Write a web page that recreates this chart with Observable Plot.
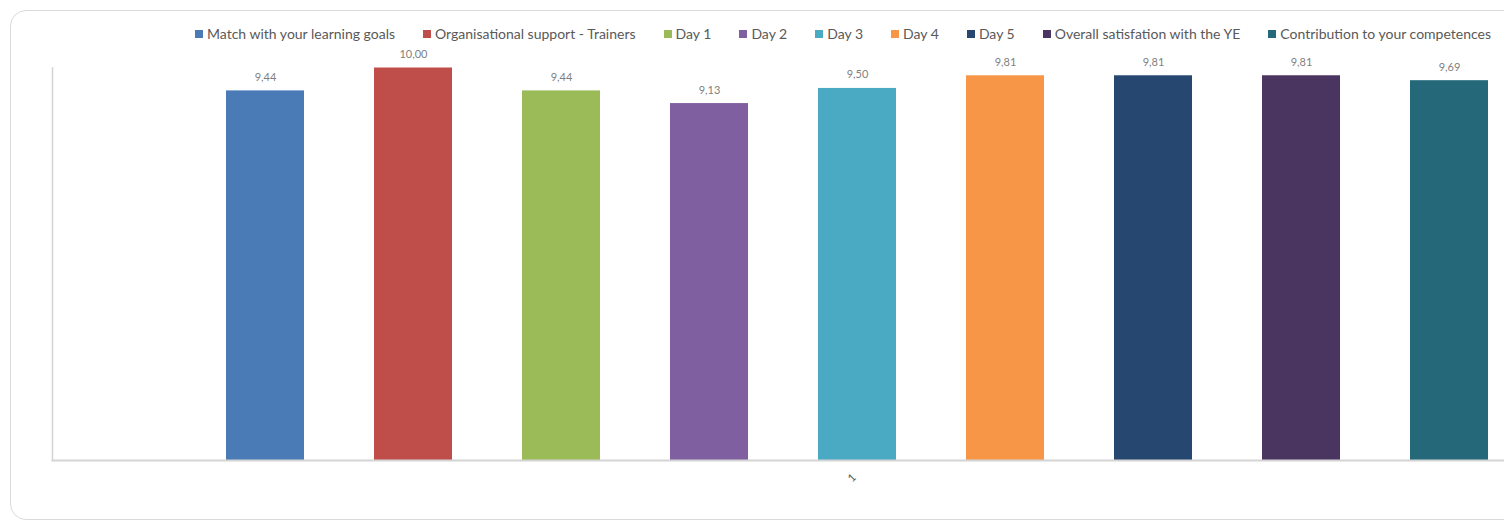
<!DOCTYPE html>
<html>
<head>
<meta charset="utf-8">
<script src="https://cdn.jsdelivr.net/npm/d3@7"></script>
<script src="https://cdn.jsdelivr.net/npm/@observablehq/plot@0.6"></script>
<style>
  html, body { margin: 0; padding: 0; background: #fff; overflow: hidden; }
  #wrap { position: relative; width: 1504px; height: 526px; overflow: hidden; }
  #border { position: absolute; left: 10px; top: 10px; width: 1700px; height: 510px;
            border: 1.5px solid #dadada; border-radius: 16px; box-sizing: border-box; }
  #chart { position: absolute; left: 0; top: 0; }
  #legend { position: absolute; left: 195px; top: 25px; display: flex; white-space: nowrap;
            font-family: Lato, sans-serif; font-size: 14px; color: #595959; gap: 28px; }
  .item { display: flex; align-items: center; }
  .sw { width: 8px; height: 8px; margin-right: 4px; display: inline-block; }
</style>
</head>
<body>
<div id="wrap">
  <div id="border"></div>
  <div id="chart"></div>
  <div id="legend"></div>
</div>
<script>
const series = [
  "Match with your learning goals",
  "Organisational support - Trainers",
  "Day 1",
  "Day 2",
  "Day 3",
  "Day 4",
  "Day 5",
  "Overall satisfation with the YE",
  "Contribution to your competences"
];
const values = [9.44, 10.00, 9.44, 9.13, 9.50, 9.81, 9.81, 9.81, 9.69];
const colors = ["#4a7bb7", "#bf4e4b", "#9bbb59", "#7f5f9f", "#4aaac4", "#f79646", "#26476f", "#4a3560", "#24687a"];
const categories = ["1"];

const data = series.map((s, i) => ({series: s, value: values[i]}));
const fmt = v => d3.format(".2f")(v).replace(".", ",");

const chart = Plot.plot({
  width: 1504,
  height: 526,
  marginLeft: 52,
  marginRight: 0,
  marginTop: 67.5,
  marginBottom: 66,
  style: {background: "transparent", fontFamily: "Lato, sans-serif"},
  x: {domain: series, range: [191, 1523.5], paddingInner: 0.473, paddingOuter: 0.2365, axis: null},
  y: {domain: [0.4, 10], clamp: true, axis: null},
  color: {domain: series, range: colors},
  marks: [
    Plot.barY(data, {x: "series", y: "value", fill: "series"}),
    Plot.text(data, {x: "series", y: "value", text: d => fmt(d.value), dy: -10, lineAnchor: "bottom",
                     fill: "#7f7f7f", fontSize: 11}),
    Plot.frame({anchor: "left", stroke: "#d4d4d4", strokeWidth: 1.5}),
    Plot.frame({anchor: "bottom", stroke: "#d4d4d4", strokeWidth: 2}),
    Plot.text(categories, {x: () => series[Math.floor(series.length / 2)], frameAnchor: "bottom",
                           dy: 20, dx: -3, text: d => d, rotate: -45, fill: "#595959", fontSize: 11})
  ]
});
document.getElementById("chart").appendChild(chart);

const legend = document.getElementById("legend");
series.forEach((s, i) => {
  const it = document.createElement("div");
  it.className = "item";
  const sw = document.createElement("span");
  sw.className = "sw";
  sw.style.background = colors[i];
  it.appendChild(sw);
  it.appendChild(document.createTextNode(s));
  legend.appendChild(it);
});
</script>
</body>
</html>
